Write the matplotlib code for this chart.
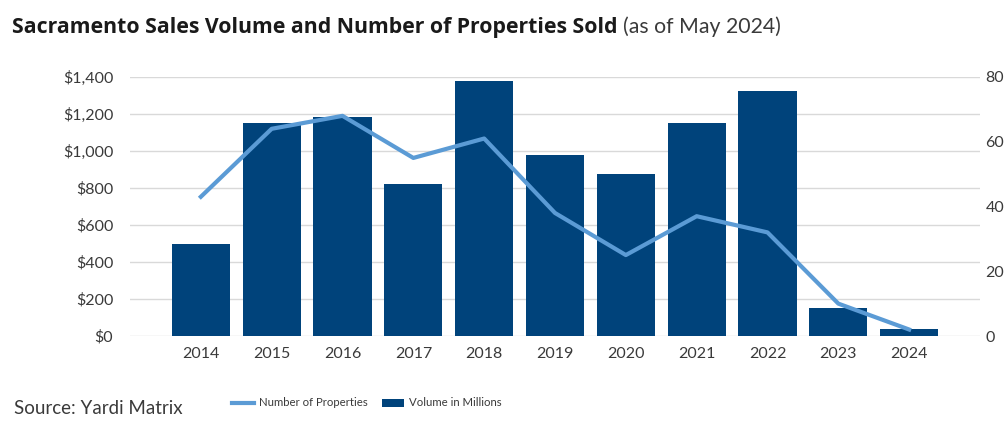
import matplotlib.pyplot as plt
from matplotlib.lines import Line2D
from matplotlib.patches import Patch
import numpy as np

# Datos
years = ["2014", "2015", "2016", "2017", "2018", "2019",
         "2020", "2021", "2022", "2023", "2024"]
volume_millions = [500, 1154, 1182, 822, 1377, 977, 875, 1154, 1325, 152, 38]
num_properties = [43, 64, 68, 55, 61, 38, 25, 37, 32, 10, 2]

BAR_COLOR = "#00437B"
LINE_COLOR = "#5B9BD5"
TEXT_COLOR = "#3A3A3A"
GRID_COLOR = "#D9D9D9"

plt.rcParams["font.family"] = ["Lato", "DejaVu Sans"]

fig = plt.figure(figsize=(10.07, 4.33), dpi=100)
ax = fig.add_axes([130 / 1007, 1 - 336 / 433, 850 / 1007, 259 / 433])
ax2 = ax.twinx()

x = np.arange(len(years))
ax.bar(x, volume_millions, width=0.82, color=BAR_COLOR, zorder=2)
ax2.plot(x, num_properties, color=LINE_COLOR, linewidth=3, zorder=3)

ax.set_xlim(-1, len(years))
ax.set_ylim(0, 1400)
ax2.set_ylim(0, 80)
ax.set_xticks(x)
ax.set_xticklabels(years)
ax.set_yticks(range(0, 1401, 200))
ax.set_yticklabels([f"${v:,}" for v in range(0, 1401, 200)])
ax2.set_yticks(range(0, 81, 20))

ax.grid(axis="y", color=GRID_COLOR, linewidth=1, zorder=0)
ax.set_axisbelow(True)
for a in (ax, ax2):
    for s in a.spines.values():
        s.set_visible(False)
    a.tick_params(length=0, labelsize=11.5, colors=TEXT_COLOR)
ax.tick_params(axis="y", pad=12)
ax.tick_params(axis="x", pad=8)
ax2.tick_params(axis="y", pad=4)
ax.set_zorder(ax2.get_zorder() - 1)
ax.patch.set_visible(False)

# Titulo: parte en negrita y luego el subtitulo a continuacion
title = fig.text(12 / 1007, 1 - 33 / 433,
                 "Sacramento Sales Volume and Number of Properties Sold",
                 fontsize=15.3, fontweight="bold", color="#1A1A1A", va="baseline",
                 family=["Open Sans", "DejaVu Sans"])
fig.canvas.draw()
bb = title.get_window_extent().transformed(fig.transFigure.inverted())
fig.text(bb.x1 + 6 / 1007, 1 - 33 / 433, "(as of May 2024)",
         fontsize=15.3, color="#3A3A3A", va="baseline")

fig.text(14 / 1007, 1 - 408 / 433, "Source: Yardi Matrix", fontsize=13.5,
         color=TEXT_COLOR, va="center")

handles = [Line2D([0], [0], color=LINE_COLOR, linewidth=3),
           Patch(facecolor=BAR_COLOR)]
fig.legend(handles, ["Number of Properties", "Volume in Millions"],
           loc="center", bbox_to_anchor=(367 / 1007, 1 - 403 / 433),
           ncol=2, frameon=False, fontsize=8.2, handlelength=1.9,
           handletextpad=0.5, columnspacing=1.2, labelcolor=TEXT_COLOR)

fig.savefig("out.png", dpi=100)
plt.close(fig)
